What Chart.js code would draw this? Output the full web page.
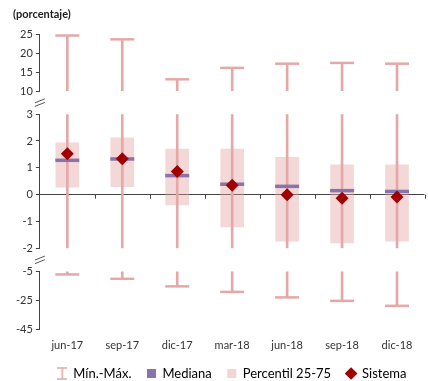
<!DOCTYPE html>
<html>
<head>
<meta charset="utf-8">
<script src="https://cdn.jsdelivr.net/npm/chart.js@4/dist/chart.umd.min.js"></script>
<style>
  html, body { margin: 0; padding: 0; overflow: hidden; background: #fff; }
  canvas { display: block; }
</style>
</head>
<body>
<canvas id="chart" width="440" height="390"></canvas>
<script>
const categories = ['jun-17', 'sep-17', 'dic-17', 'mar-18', 'jun-18', 'sep-18', 'dic-18'];
const maxVals = [24.6, 23.6, 13.1, 16.1, 17.2, 17.4, 17.2];
const minVals = [-7.1, -10.1, -15.3, -19.1, -22.9, -25.3, -28.7];
const p25 = [0.28, 0.30, -0.38, -1.20, -1.73, -1.80, -1.73];
const p75 = [1.93, 2.12, 1.70, 1.70, 1.39, 1.11, 1.11];
const median = [1.28, 1.33, 0.71, 0.39, 0.31, 0.15, 0.12];
const sistema = [1.52, 1.34, 0.86, 0.35, 0.00, -0.13, -0.09];

// broken axis: three pieces
const topRange = [10, 25];
const midRange = [-2, 3];
const botRange = [-45, -5];
const topTicks = [10, 15, 20, 25];
const midTicks = [-2, -1, 0, 1, 2, 3];
const botTicks = [-45, -25, -5];

const pink = 'rgb(228,168,168)';
const boxPink = 'rgba(228,160,160,0.42)';
const purple = 'rgb(138,114,170)';
const red = '#a00000';
const axisColor = '#444';
const font = 'Lato';

// legend icon for the whiskers
const whiskerIcon = document.createElement('canvas');
whiskerIcon.width = 10;
whiskerIcon.height = 13;
(function () {
  const c = whiskerIcon.getContext('2d');
  c.strokeStyle = pink;
  c.lineWidth = 1.6;
  c.beginPath();
  c.moveTo(0, 1); c.lineTo(10, 1);
  c.moveTo(5, 1); c.lineTo(5, 12);
  c.moveTo(0, 12); c.lineTo(10, 12);
  c.stroke();
})();

const breakMarks = {
  id: 'breakMarks',
  afterDraw(chart) {
    const { ctx, scales, chartArea } = chart;
    const x0 = chartArea.left;
    ctx.save();
    ctx.strokeStyle = '#555';
    ctx.lineWidth = 1;
    const gaps = [
      (scales.yTop.bottom + scales.yMid.top) / 2,
      (scales.yMid.bottom + scales.yBot.top) / 2
    ];
    gaps.forEach(yc => {
      [-1.8, 1.8].forEach(d => {
        ctx.beginPath();
        ctx.moveTo(x0 - 5, yc + d + 2);
        ctx.lineTo(x0 + 5, yc + d - 2);
        ctx.stroke();
      });
    });
    // small ticks on the zero line between categories
    const y0 = scales.yMid.getPixelForValue(0);
    const half = (scales.x.getPixelForValue(1) - scales.x.getPixelForValue(0)) / 2;
    ctx.strokeStyle = axisColor;
    for (let i = 0; i < categories.length; i++) {
      const xb = scales.x.getPixelForValue(i) + half;
      ctx.beginPath();
      ctx.moveTo(Math.round(xb) + 0.5, y0);
      ctx.lineTo(Math.round(xb) + 0.5, y0 + 4);
      ctx.stroke();
    }
    ctx.restore();
  }
};

function yAxis(range, ticks, weight, order, extra) {
  return Object.assign({
    type: 'linear',
    position: 'left',
    stack: 'y',
    stackWeight: weight,
    weight: order,
    min: range[0],
    max: range[1],
    afterBuildTicks: scale => { scale.ticks = ticks.map(v => ({ value: v })); },
    border: { display: true, color: axisColor, width: 1 },
    grid: { drawOnChartArea: false, drawTicks: true, tickLength: 4, color: axisColor },
    ticks: { autoSkip: false, color: '#333', font: { family: font, size: 11 }, padding: 3 }
  }, extra || {});
}

function gapAxis(weight, order) {
  return { type: 'linear', position: 'left', stack: 'y', stackWeight: weight, weight: order, display: false };
}

const clampMid = i => [Math.max(minVals[i], midRange[0]), Math.min(maxVals[i], midRange[1])];

new Chart(document.getElementById('chart'), {
  type: 'bar',
  data: {
    labels: categories,
    datasets: [
      {
        label: 'Sistema', type: 'line', showLine: false, yAxisID: 'yMid', order: 1,
        data: sistema, pointStyle: 'rectRot', pointRadius: 6.5,
        pointBackgroundColor: red, pointBorderColor: red, pointBorderWidth: 0, clip: false
      },
      {
        label: 'Mediana', type: 'line', showLine: false, yAxisID: 'yMid', order: 2,
        data: median, pointStyle: 'line', pointRadius: 12,
        pointBorderColor: purple, pointBorderWidth: 3.5, clip: false
      },
      {
        label: 'maxCap', type: 'line', showLine: false, yAxisID: 'yTop', order: 3,
        data: maxVals, pointStyle: 'line', pointRadius: 12,
        pointBorderColor: pink, pointBorderWidth: 2.5, clip: false
      },
      {
        label: 'minCap', type: 'line', showLine: false, yAxisID: 'yBot', order: 3,
        data: minVals, pointStyle: 'line', pointRadius: 12,
        pointBorderColor: pink, pointBorderWidth: 2.5, clip: false
      },
      {
        label: 'whiskerTop', yAxisID: 'yTop', order: 3, grouped: false, barThickness: 2,
        data: maxVals.map(v => [topRange[0], v]), backgroundColor: pink
      },
      {
        label: 'whiskerMid', yAxisID: 'yMid', order: 3, grouped: false, barThickness: 2,
        data: categories.map((c, i) => clampMid(i)), backgroundColor: pink
      },
      {
        label: 'whiskerBot', yAxisID: 'yBot', order: 3, grouped: false, barThickness: 2,
        data: minVals.map(v => [v, botRange[1]]), backgroundColor: pink
      },
      {
        label: 'Percentil 25-75', yAxisID: 'yMid', order: 4, grouped: false, barThickness: 23,
        data: p25.map((v, i) => [v, p75[i]]), backgroundColor: boxPink
      }
    ]
  },
  options: {
    responsive: false,
    maintainAspectRatio: false,
    animation: false,
    events: [],
    layout: { padding: { left: 13, right: 1, top: 0, bottom: 0 } },
    scales: {
      x: {
        type: 'category',
        offset: true,
        grid: { display: false, drawTicks: false },
        border: { display: false },
        ticks: { color: '#333', font: { family: font, size: 11, lineHeight: 1 }, padding: 10.5 },
        afterFit: scale => { scale.height = 22; }
      },
      yTop: yAxis(topRange, topTicks, 57, 5),
      gap1: gapAxis(23, 4),
      yMid: yAxis(midRange, midTicks, 134, 3, {
        grid: {
          drawOnChartArea: true, drawTicks: true, tickLength: 4,
          color: ctx => (ctx.tick && ctx.tick.value === 0 ? axisColor : 'rgba(0,0,0,0)'),
          tickColor: axisColor
        }
      }),
      gap2: gapAxis(23, 2),
      yBot: yAxis(botRange, botTicks, 58, 1)
    },
    plugins: {
      title: {
        display: true,
        text: '(porcentaje)',
        align: 'start',
        color: '#222',
        font: { family: font, size: 11, weight: 'bold' },
        padding: { top: 8, bottom: 12.8 }
      },
      legend: {
        position: 'bottom',
        fullSize: false,
        labels: {
          usePointStyle: true,
          boxWidth: 9,
          boxHeight: 9,
          padding: 15.5,
          color: '#333',
          font: { family: font, size: 13 },
          generateLabels: () => [
            { text: 'Mín.-Máx.', pointStyle: whiskerIcon, fillStyle: pink, strokeStyle: pink, lineWidth: 0, hidden: false },
            { text: 'Mediana', pointStyle: 'rect', fillStyle: purple, strokeStyle: purple, lineWidth: 0, hidden: false },
            { text: 'Percentil 25-75', pointStyle: 'rect', fillStyle: 'rgb(242,213,213)', strokeStyle: 'rgb(242,213,213)', lineWidth: 0, hidden: false },
            { text: 'Sistema', pointStyle: 'rectRot', fillStyle: red, strokeStyle: red, lineWidth: 0, hidden: false }
          ]
        }
      },
      tooltip: { enabled: false }
    }
  },
  plugins: [breakMarks]
});
</script>
</body>
</html>
